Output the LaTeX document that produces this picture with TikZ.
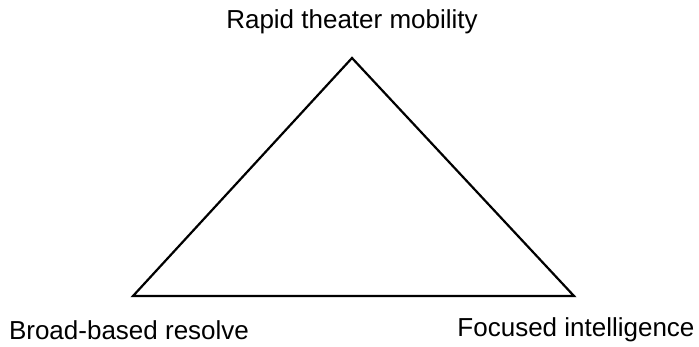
\documentclass[tikz,border=0pt]{standalone}
\usepackage{fontspec}
\setmainfont{Liberation Sans}

\begin{document}
\begin{tikzpicture}[x=1pt,y=-1pt,
    label text/.style={font=\fontsize{26}{31}\selectfont, inner sep=0pt}]
  \useasboundingbox (0,0) rectangle (699,346);

  \coordinate (top) at (352,58);
  \coordinate (left) at (133,296);
  \coordinate (right) at (574,296);

  \node[label text] (mobility) at (352,22) {Rapid theater mobility};
  \node[label text] (resolve) at (129,330) {Broad-based resolve};
  \node[label text] (intelligence) at (576,330) {Focused intelligence};

  \draw[line width=2.2pt] (top) -- (right) -- (left) -- cycle;
\end{tikzpicture}
\end{document}
